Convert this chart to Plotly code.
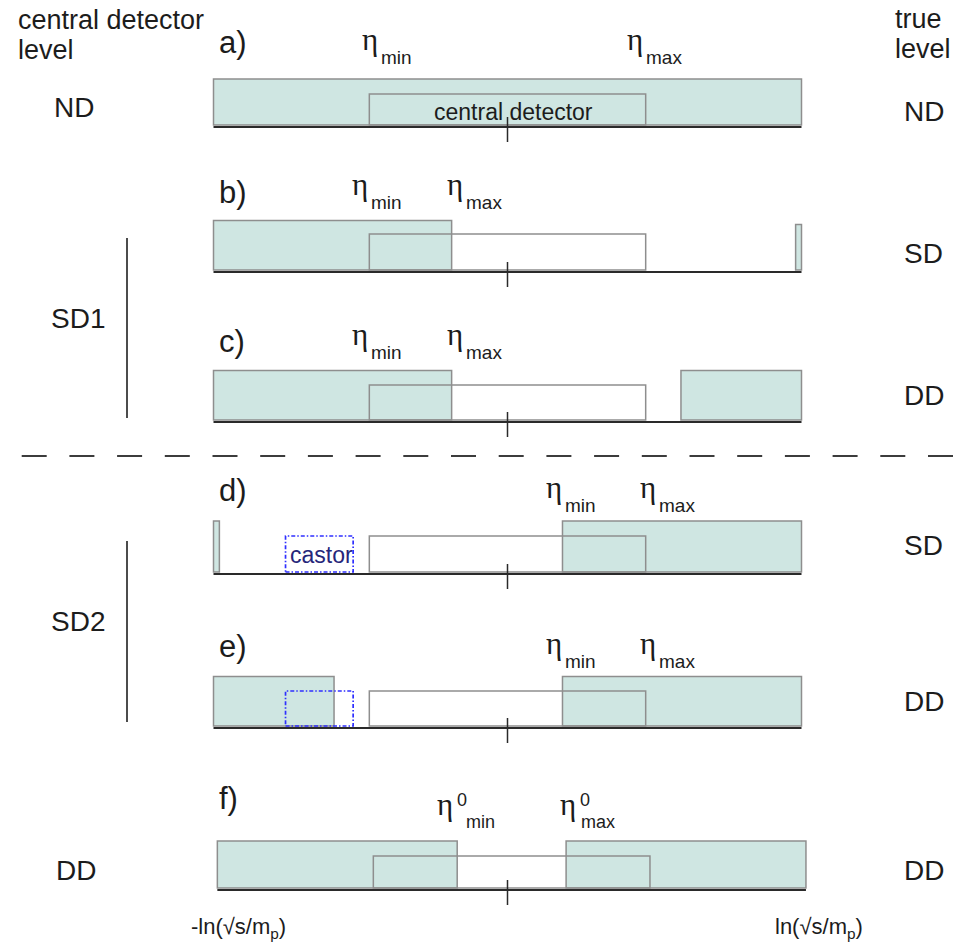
import plotly.graph_objects as go

# Rapidity coverage sketch: where each event class deposits activity
# (shaded) relative to the central detector and CASTOR acceptance.

Y_BEAM = 10.0                      # |eta| of the beam, ln(sqrt(s)/m_p), in sketch units
CENTRAL = (-4.7, 4.7)              # central detector acceptance
CASTOR = (-7.55, -5.25)            # CASTOR acceptance (backward side)
GAP_SD1 = -1.9                     # eta_max for SD1 topologies
GAP_SD2 = 1.87                     # eta_min for SD2 topologies
GAP_DD = 5.9                       # start of the forward DD system in c)
GAP_DD_E = -5.9                    # end of the backward DD system in e)
GAP0 = 1.85                        # |eta^0| of the central gap in f)
SLIVER = 0.2                       # width of a very forward, undetected system

PANELS = ["a)", "b)", "c)", "d)", "e)", "f)"]
CD_LEVEL = ["ND", None, None, None, None, "DD"]
TRUE_LEVEL = ["ND", "SD", "DD", "SD", "DD", "DD"]

# shaded (particle-producing) rapidity intervals per panel
ACTIVE = [
    [(-Y_BEAM, Y_BEAM)],
    [(-Y_BEAM, GAP_SD1), (Y_BEAM - SLIVER, Y_BEAM)],
    [(-Y_BEAM, GAP_SD1), (GAP_DD, Y_BEAM)],
    [(-Y_BEAM, -Y_BEAM + SLIVER), (GAP_SD2, Y_BEAM)],
    [(-Y_BEAM, GAP_DD_E), (GAP_SD2, Y_BEAM)],
    [(-Y_BEAM, -GAP0), (GAP0, Y_BEAM)],
]
SHOW_CASTOR = [False, False, False, True, True, False]

# eta labels per panel: (subscript, edge value)
ETA_LABELS = [
    [("min", CENTRAL[0]), ("max", CENTRAL[1])],
    [("min", CENTRAL[0]), ("max", GAP_SD1)],
    [("min", CENTRAL[0]), ("max", GAP_SD1)],
    [("min", GAP_SD2), ("max", CENTRAL[1])],
    [("min", GAP_SD2), ("max", CENTRAL[1])],
    [("min", -GAP0), ("max", GAP0)],
]

# ---- layout of the rows (pixels from the top) ----
BASE_Y = [127, 272, 422, 574, 728, 890]
ACTIVE_TOP = [79, 220.5, 370.5, 521, 676.5, 841]
DETECTOR_TOP = [94, 234, 385, 536, 691, 856]
LETTER_Y = [42, 192, 341, 490.5, 646, 798]
ETA_TOP = [35, 180, 330, 483.5, 639, 800]
RIGHT_Y = [111.7, 253.3, 395, 545, 701.7, 870]
# pixel offsets of the eta glyph's left edge from its edge value
ETA_XSHIFT = [[-9, -21], [-19, -7], [-19, -7], [-18, -8], [-18, -8], [-22, -8]]

PX_PER_UNIT = 29.4
CENTER_PX = 507.5
W, H = 963, 944
F_CENTER_PX, F_PX_PER_UNIT = 511.65, 29.43

GREEN = "#cfe6e2"
EDGE = "#8e8e8e"
DARK = "#2a2a2a"
TXT = "#1c1c1c"
SANS = "Liberation Sans, Arial, sans-serif"
NARROW = "Liberation Sans Narrow, Arial Narrow, Liberation Sans, sans-serif"
SERIF = "Liberation Serif, Times New Roman, serif"

fig = go.Figure()
# invisible anchors so both x axes exist
fig.add_trace(go.Scatter(x=[0], y=[0], mode="markers", marker=dict(opacity=0),
                         hoverinfo="skip", showlegend=False, xaxis="x", yaxis="y"))
fig.add_trace(go.Scatter(x=[0], y=[0], mode="markers", marker=dict(opacity=0),
                         hoverinfo="skip", showlegend=False, xaxis="x2", yaxis="y"))

shapes = []
annotations = []


def text(x, y, s, size, xref="x", yref="y", xanchor="left", family=SANS,
         color=TXT, xshift=0):
    annotations.append(dict(x=x, y=y, xref=xref, yref=yref, text=s,
                            showarrow=False, xanchor=xanchor, yanchor="middle",
                            xshift=xshift, font=dict(size=size, family=family,
                                                     color=color)))


def px_to_eta(px):
    return (px - CENTER_PX) / PX_PER_UNIT


for i, name in enumerate(PANELS):
    xr = "x2" if i == 5 else "x"
    base = BASE_Y[i]
    bottom = base - 2
    # shaded activity regions
    for lo, hi in ACTIVE[i]:
        top = ACTIVE_TOP[i]
        if hi - lo <= SLIVER + 1e-9:
            top = ACTIVE_TOP[i] + (4 if i == 1 else 0)
        shapes.append(dict(type="rect", xref=xr, yref="y", x0=lo, x1=hi,
                           y0=bottom, y1=top, fillcolor=GREEN,
                           line=dict(color=EDGE, width=1.5)))
    # central detector outline
    shapes.append(dict(type="rect", xref=xr, yref="y", x0=CENTRAL[0], x1=CENTRAL[1],
                       y0=bottom, y1=DETECTOR_TOP[i], fillcolor="rgba(0,0,0,0)",
                       line=dict(color=EDGE, width=1.5)))
    if SHOW_CASTOR[i]:
        shapes.append(dict(type="rect", xref=xr, yref="y", x0=CASTOR[0], x1=CASTOR[1],
                           y0=bottom, y1=DETECTOR_TOP[i], fillcolor="rgba(0,0,0,0)",
                           line=dict(color="#2f2fff", width=1.7, dash="4px,2px,1.5px,2px")))
    # rapidity axis and eta = 0 tick
    shapes.append(dict(type="line", xref=xr, yref="y", x0=-Y_BEAM, x1=Y_BEAM,
                       y0=base, y1=base, line=dict(color=DARK, width=2)))
    shapes.append(dict(type="line", xref="x", yref="y", x0=0, x1=0,
                       y0=base - 10, y1=base + 15, line=dict(color=DARK, width=1.5)))

    # panel letter
    text(px_to_eta(217), LETTER_Y[i], name, 31, xref="x")

    # eta labels
    for j, (sub, edge) in enumerate(ETA_LABELS[i]):
        t = ETA_TOP[i]
        xs = ETA_XSHIFT[i][j]
        text(edge, t + 4, "η", 31, xref=xr, family=SERIF, xshift=xs)
        if i == 5:
            text(edge, t + 0, "0", 18, xref=xr, family=NARROW, xshift=xs + 20)
            text(edge, t + 22, sub, 18, xref=xr, family=NARROW,
                 xshift=xs + (29 if sub == "min" else 21))
        else:
            text(edge, t + 22, sub, 19, xref=xr, xshift=xs + 19)

    # right-hand "true level" labels
    text(px_to_eta(902), RIGHT_Y[i], TRUE_LEVEL[i], 28)

# central detector and CASTOR names
text(0, 112, "central detector", 23, xanchor="center", xshift=6)
text(sum(CASTOR) / 2, 555, "castor", 23, xanchor="center", xshift=2, color="#26267a")

# left-hand "central detector level" labels
text(px_to_eta(16), 19.6, "central detector", 27)
text(px_to_eta(16), 49.6, "level", 27)
text(px_to_eta(893), 19.3, "true", 27)
text(px_to_eta(893), 49.3, "level", 27)
text(px_to_eta(52), 107.7, CD_LEVEL[0], 28)
text(px_to_eta(49), 318, "SD1", 28)
text(px_to_eta(49), 621, "SD2", 28)
text(px_to_eta(54), 870, CD_LEVEL[5], 28)

# brackets grouping the SD1 / SD2 rows
for y0, y1 in [(238, 418), (541, 722)]:
    shapes.append(dict(type="line", xref="x", yref="y", x0=px_to_eta(127),
                       x1=px_to_eta(127), y0=y0, y1=y1,
                       line=dict(color="#111111", width=1.5)))

# separator between SD1 and SD2 sections
shapes.append(dict(type="line", xref="x", yref="y", x0=px_to_eta(21.7),
                   x1=px_to_eta(956), y0=456, y1=456,
                   line=dict(color="#3c3c3c", width=2, dash="25px,22.7px")))

# beam rapidity limits
text(-Y_BEAM, 928, "-ln(√s/m<sub>p</sub>)", 22, xref="x2", xanchor="center",
     family=NARROW, xshift=21)
text(Y_BEAM, 928, "ln(√s/m<sub>p</sub>)", 22, xref="x2", xanchor="center",
     family=NARROW, xshift=13)

fig.update_layout(
    width=W, height=H, margin=dict(l=0, r=0, t=0, b=0),
    paper_bgcolor="white", plot_bgcolor="white", showlegend=False,
    xaxis=dict(range=[px_to_eta(0), px_to_eta(W)], visible=False, fixedrange=True),
    xaxis2=dict(range=[(0 - F_CENTER_PX) / F_PX_PER_UNIT, (W - F_CENTER_PX) / F_PX_PER_UNIT],
                overlaying="x", visible=False, fixedrange=True),
    yaxis=dict(range=[H, 0], visible=False, fixedrange=True),
    shapes=shapes, annotations=annotations,
)

fig.write_html("out.html")
